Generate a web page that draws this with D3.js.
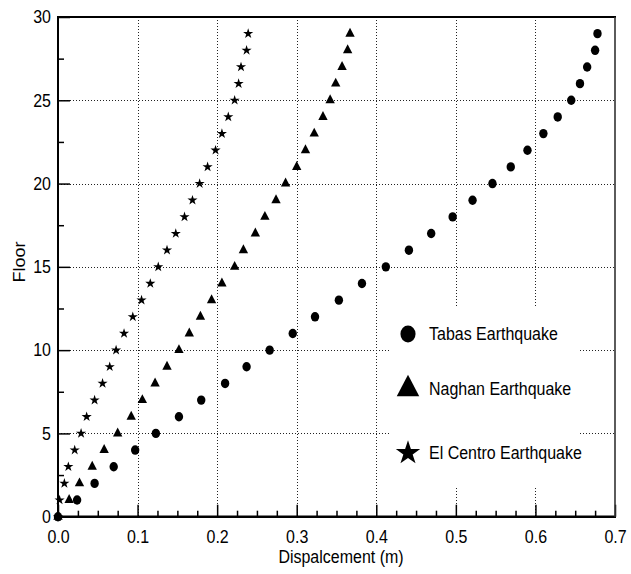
<!DOCTYPE html>
<html>
<head>
<meta charset="utf-8">
<script src="https://cdn.jsdelivr.net/npm/d3@7"></script>
<style>
  body { margin: 0; background: #fff; }
  svg { display: block; }
  text { font-family: "Liberation Sans", Arial, sans-serif; fill: #000; }
</style>
</head>
<body>
<div id="chart"></div>
<script>
(function () {
// floors and displacement (m)
var floors = [0,1,2,3,4,5,6,7,8,9,10,11,12,13,14,15,16,17,18,19,20,21,22,23,24,25,26,27,28,29];
var tabas = [0, 0.024, 0.046, 0.070, 0.097, 0.123, 0.152, 0.180, 0.210, 0.237, 0.266, 0.295, 0.323, 0.353, 0.382,
  0.412, 0.441, 0.469, 0.496, 0.521, 0.546, 0.569, 0.590, 0.610, 0.628, 0.645, 0.656, 0.665, 0.675, 0.678];
var naghan = [0, 0.014, 0.027, 0.043, 0.058, 0.075, 0.092, 0.106, 0.122, 0.137, 0.152, 0.165, 0.179, 0.193, 0.206,
  0.222, 0.233, 0.248, 0.260, 0.274, 0.286, 0.300, 0.311, 0.322, 0.333, 0.342, 0.349, 0.357, 0.364, 0.367];
var elCentro = [0, 0.002, 0.008, 0.013, 0.021, 0.029, 0.036, 0.046, 0.056, 0.065, 0.073, 0.083, 0.094, 0.105, 0.116,
  0.126, 0.137, 0.148, 0.159, 0.169, 0.178, 0.188, 0.198, 0.206, 0.214, 0.222, 0.227, 0.230, 0.237, 0.239];

var seriesNames = ["Tabas Earthquake", "Naghan Earthquake", "El Centro Earthquake"];
var seriesShapes = ["circle", "triangle", "star"];

var xTicks = [0, 0.1, 0.2, 0.3, 0.4, 0.5, 0.6, 0.7];
var xMinor = [0.025, 0.05, 0.075, 0.125, 0.15, 0.175, 0.225, 0.25, 0.275, 0.325, 0.35, 0.375,
  0.425, 0.45, 0.475, 0.525, 0.55, 0.575, 0.625, 0.65, 0.675];
var yTicks = [0, 5, 10, 15, 20, 25, 30];
var yMinor = [2.5, 7.5, 12.5, 17.5, 22.5, 27.5];

var W = 631, H = 574;
var left = 58, right = 615, top = 17, bottom = 516.7;
var stretch = 1.12; // the scan is a bit taller than wide

var svg = d3.select("#chart").append("svg").attr("width", W).attr("height", H);

var x = d3.scaleLinear().domain([0, 0.7]).range([left, right]);
var y = d3.scaleLinear().domain([0, 30]).range([bottom, top]);

// dotted grid
var grid = svg.append("g").attr("stroke", "#222").attr("stroke-width", 1).attr("stroke-dasharray", "1,2");
grid.selectAll(".gx").data(xTicks.slice(1, -1)).enter().append("line")
  .attr("x1", function (d) { return Math.round(x(d)) + 0.5; })
  .attr("x2", function (d) { return Math.round(x(d)) + 0.5; })
  .attr("y1", top).attr("y2", bottom);
grid.selectAll(".gy").data(yTicks.slice(1, -1)).enter().append("line")
  .attr("y1", function (d) { return Math.round(y(d)) + 0.5; })
  .attr("y2", function (d) { return Math.round(y(d)) + 0.5; })
  .attr("x1", left).attr("x2", right);

// legend background hides the grid
svg.append("rect").attr("x", 390).attr("y", 308).attr("width", 188).attr("height", 178).attr("fill", "#fff");

// axes with inward ticks
var xAxis = svg.append("g").attr("transform", "translate(0," + bottom + ")")
  .call(d3.axisBottom(x).tickValues(xTicks).tickSize(-12).tickPadding(12).tickFormat(d3.format(".1f")));
var xAxisMinor = svg.append("g").attr("transform", "translate(0," + bottom + ")")
  .call(d3.axisBottom(x).tickValues(xMinor).tickSize(-6).tickFormat(""));
var yAxis = svg.append("g").attr("transform", "translate(" + left + ",0)")
  .call(d3.axisLeft(y).tickValues(yTicks).tickSize(-12).tickPadding(7));
var yAxisMinor = svg.append("g").attr("transform", "translate(" + left + ",0)")
  .call(d3.axisLeft(y).tickValues(yMinor).tickSize(-6).tickFormat(""));

[xAxis, xAxisMinor, yAxis, yAxisMinor].forEach(function (g) {
  g.select(".domain").remove();
  g.selectAll(".tick line").attr("stroke", "#000").attr("stroke-width", 1.5);
  g.selectAll("text").attr("font-size", "16px")
    .attr("font-family", "'Liberation Sans', Arial, sans-serif")
    .attr("transform", "scale(1," + stretch + ")");
});

// frame
svg.append("line").attr("x1", left).attr("x2", left).attr("y1", top - 1).attr("y2", bottom + 1)
  .attr("stroke", "#000").attr("stroke-width", 2);
svg.append("line").attr("x1", left - 1).attr("x2", right + 1).attr("y1", bottom).attr("y2", bottom)
  .attr("stroke", "#000").attr("stroke-width", 2.5);
svg.append("line").attr("x1", left - 1).attr("x2", right + 1).attr("y1", top).attr("y2", top)
  .attr("stroke", "#000").attr("stroke-width", 2.2);
svg.append("line").attr("x1", right).attr("x2", right).attr("y1", top).attr("y2", bottom)
  .attr("stroke", "#333").attr("stroke-width", 1.6);

// axis titles
svg.append("text").attr("transform", "translate(341,563) scale(1," + stretch + ")").attr("text-anchor", "middle")
  .attr("font-size", "16px").text("Dispalcement (m)");
svg.append("text").attr("transform", "translate(25,262) rotate(-90) scale(" + stretch + ",1)").attr("text-anchor", "middle")
  .attr("font-size", "16px").text("Floor");

// markers
function drawMarker(g, shape, cx, cy, s) {
  if (shape === "circle") {
    g.append("ellipse").attr("cx", cx).attr("cy", cy).attr("rx", 4.2 * s).attr("ry", 4.7 * s).attr("fill", "#000");
  } else if (shape === "triangle") {
    g.append("path").attr("d", d3.symbol().type(d3.symbolTriangle).size(38 * s * s)())
      .attr("transform", "translate(" + cx + "," + cy + ") scale(1,1.1)").attr("fill", "#000");
  } else {
    g.append("path").attr("d", d3.symbol().type(d3.symbolStar).size(32 * s * s)())
      .attr("transform", "translate(" + cx + "," + cy + ")").attr("fill", "#000");
  }
}

var marks = svg.append("g");
[tabas, naghan, elCentro].forEach(function (vals, k) {
  vals.forEach(function (v, i) {
    drawMarker(marks, seriesShapes[k], x(v), y(floors[i]), 1);
  });
});

// legend
var legendY = [334, 389, 453];
var legend = svg.append("g");
seriesNames.forEach(function (name, k) {
  drawMarker(legend, seriesShapes[k], 408, legendY[k], k === 0 ? 1.8 : 2.4);
  legend.append("text").attr("transform", "translate(429," + (legendY[k] + 6) + ") scale(1," + stretch + ")")
    .attr("font-size", "16px").text(name);
});
})();
</script>
</body>
</html>
